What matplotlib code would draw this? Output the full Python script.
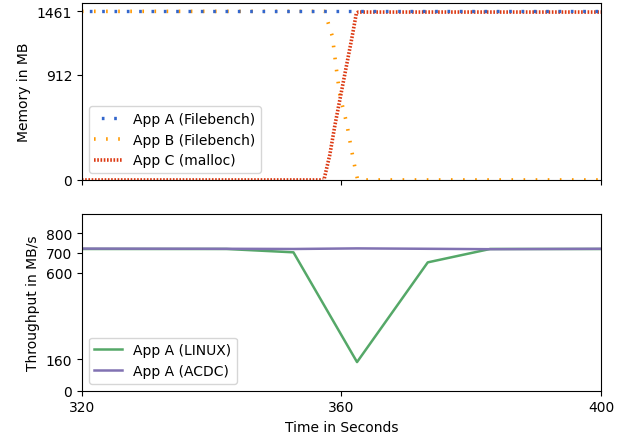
import matplotlib.pyplot as plt

# Speicher (MB) ueber Zeit (s)
t_a = [320, 400]
mem_a = [1461, 1461]

t_b = [320, 357.4, 358.6, 359.2, 359.75, 360.8, 361.6, 362.1, 362.5, 400]
mem_b = [1461, 1461, 1244, 969, 737, 492, 246, 101, 0, 0]

t_c = [320, 357.3, 358.2, 359.0, 360.0, 360.8, 361.6, 362.3, 362.6, 400]
mem_c = [0, 0, 217, 477, 767, 998, 1229, 1446, 1455, 1455]

# Durchsatz (MB/s)
t_thr = [320, 342.3, 352.6, 362.4, 373.3, 382.9, 400]
thr_linux = [720, 720, 703, 145, 652, 720, 720]
thr_acdc = [722, 721, 720, 723, 721, 719, 721]

mem_ticks = [0, 912, 1461]
thr_ticks = [0, 160, 600, 700, 800]
time_ticks = [320, 360, 400]

fig, (ax1, ax2) = plt.subplots(2, 1, figsize=(6.3, 4.39), dpi=100, sharex=True)
fig.subplots_adjust(left=0.130, right=0.954, top=0.991, bottom=0.108, hspace=0.19)

ax1.plot(t_b, mem_b, color="#ff9900", lw=2.6, linestyle=(0, (0.45, 2.9)), label="App B (Filebench)", zorder=2)
ax1.plot(t_c, mem_c, color="#dc3912", lw=2.6, linestyle=(0, (0.45, 0.45)), label="App C (malloc)", zorder=2)
ax1.plot(t_a, mem_a, color="#3366cc", lw=2.4, linestyle=(1.5, (0.8, 2.9)), label="App A (Filebench)", zorder=3)
h, l = ax1.get_legend_handles_labels()
ax1.legend([h[2], h[0], h[1]], [l[2], l[0], l[1]], loc="lower left")
ax1.set_ylim(0, 1534)
ax1.set_yticks(mem_ticks)
ax1.set_ylabel("Memory in MB")

ax2.plot(t_thr, thr_linux, color="#55a868", lw=1.8, label="App A (LINUX)")
ax2.plot(t_thr, thr_acdc, color="#8172b2", lw=1.8, label="App A (ACDC)")
ax2.legend(loc="lower left")
ax2.set_ylim(0, 900)
ax2.set_yticks(thr_ticks)
ax2.set_ylabel("Throughput in MB/s")

ax2.set_xlim(320, 400)
ax2.set_xticks(time_ticks)
ax2.set_xlabel("Time in Seconds")

plt.savefig("out.png", dpi=100)
